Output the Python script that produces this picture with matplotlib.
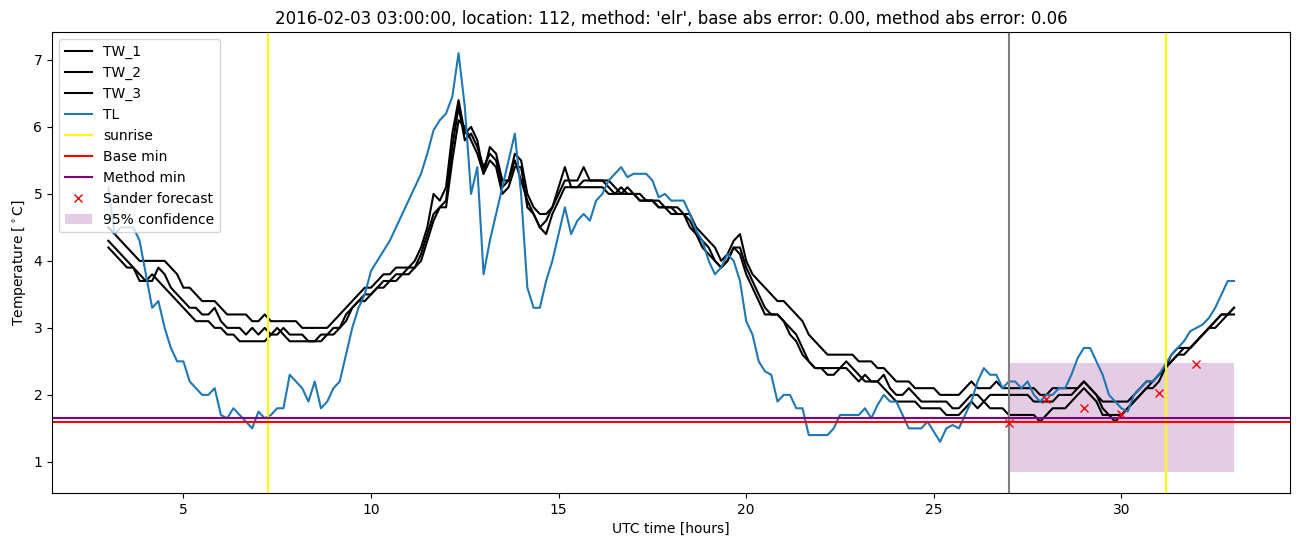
import numpy as np
import matplotlib
matplotlib.use("Agg")
import matplotlib.pyplot as plt

# 10-minute samples from 03:00 to 33:00 (hours since 2016-02-02 00 UTC)
hours = np.arange(181) / 6 + 3

tw_1 = [
    4.5, 4.4, 4.3, 4.2, 4.1, 4.0,
    4.0, 4.0, 4.0, 4.0, 3.9, 3.8,
    3.6, 3.6, 3.5, 3.4, 3.4, 3.4,
    3.3, 3.2, 3.2, 3.2, 3.2, 3.1,
    3.1, 3.2, 3.1, 3.1, 3.1, 3.1,
    3.1, 3.0, 3.0, 3.0, 3.0, 3.0,
    3.1, 3.2, 3.3, 3.4, 3.5, 3.6,
    3.6, 3.7, 3.8, 3.8, 3.9, 3.9,
    3.9, 4.0, 4.2, 4.5, 5.0, 4.9,
    5.1, 5.9, 6.4, 5.9, 6.0, 5.8,
    5.3, 5.7, 5.6, 5.2, 5.2, 5.6,
    5.5, 5.0, 4.8, 4.7, 4.7, 4.8,
    5.1, 5.4, 5.1, 5.1, 5.2, 5.2,
    5.2, 5.2, 5.2, 5.1, 5.0, 5.0,
    5.0, 4.9, 4.9, 4.9, 4.9, 4.8,
    4.8, 4.7, 4.7, 4.7, 4.5, 4.4,
    4.3, 4.2, 4.0, 4.1, 4.3, 4.4,
    4.0, 3.8, 3.7, 3.6, 3.5, 3.4,
    3.4, 3.3, 3.2, 3.1, 2.9, 2.8,
    2.7, 2.6, 2.6, 2.6, 2.6, 2.6,
    2.5, 2.5, 2.5, 2.4, 2.4, 2.3,
    2.2, 2.2, 2.2, 2.1, 2.1, 2.1,
    2.1, 2.0, 2.0, 2.0, 2.0, 2.1,
    2.2, 2.1, 2.1, 2.1, 2.2, 2.1,
    2.1, 2.1, 2.1, 2.1, 2.1, 2.0,
    2.0, 2.1, 2.1, 2.1, 2.1, 2.1,
    2.2, 2.1, 2.0, 1.9, 1.9, 1.9,
    1.9, 1.9, 2.0, 2.1, 2.2, 2.2,
    2.3, 2.4, 2.6, 2.7, 2.7, 2.7,
    2.8, 2.9, 3.0, 3.1, 3.2, 3.2,
    3.3,
]

tw_2 = [
    4.3, 4.2, 4.1, 4.0, 3.9, 3.8,
    3.7, 3.7, 3.9, 3.8, 3.6, 3.5,
    3.4, 3.3, 3.3, 3.2, 3.2, 3.3,
    3.1, 3.0, 3.0, 3.0, 2.9, 3.0,
    2.9, 3.0, 2.9, 2.9, 3.0, 2.9,
    2.9, 2.9, 2.8, 2.8, 2.8, 2.9,
    2.9, 3.0, 3.1, 3.3, 3.4, 3.5,
    3.5, 3.6, 3.7, 3.7, 3.8, 3.8,
    3.9, 3.9, 4.1, 4.4, 4.7, 4.8,
    4.9, 5.7, 6.3, 5.8, 5.9, 5.7,
    5.4, 5.6, 5.5, 5.1, 5.2, 5.5,
    5.2, 4.9, 4.7, 4.5, 4.6, 4.8,
    5.0, 5.2, 5.2, 5.2, 5.4, 5.2,
    5.2, 5.2, 5.1, 5.0, 5.0, 5.1,
    5.0, 5.0, 4.9, 4.9, 4.8, 4.8,
    4.8, 4.8, 4.7, 4.6, 4.4, 4.3,
    4.2, 4.0, 3.9, 4.0, 4.2, 4.2,
    3.9, 3.7, 3.5, 3.3, 3.2, 3.2,
    3.1, 3.0, 2.9, 2.7, 2.5, 2.4,
    2.4, 2.4, 2.4, 2.4, 2.5, 2.4,
    2.3, 2.2, 2.2, 2.2, 2.3, 2.1,
    2.0, 2.0, 2.1, 2.0, 1.9, 1.9,
    1.9, 1.9, 1.9, 1.8, 1.8, 1.9,
    2.0, 2.0, 1.9, 2.0, 2.0, 2.0,
    2.0, 2.0, 2.0, 2.0, 1.9, 1.9,
    1.9, 1.9, 2.0, 2.0, 2.0, 2.1,
    2.2, 2.1, 2.0, 1.8, 1.7, 1.7,
    1.7, 1.8, 1.9, 2.0, 2.1, 2.2,
    2.3, 2.4, 2.5, 2.6, 2.7, 2.7,
    2.8, 2.9, 3.0, 3.1, 3.2, 3.2,
    3.2,
]

tw_3 = [
    4.2, 4.1, 4.0, 3.9, 3.9, 3.7,
    3.7, 3.8, 3.7, 3.6, 3.5, 3.4,
    3.3, 3.2, 3.1, 3.1, 3.1, 3.0,
    3.0, 2.9, 2.9, 2.8, 2.8, 2.8,
    2.8, 2.8, 2.9, 3.0, 2.9, 2.8,
    2.8, 2.8, 2.8, 2.8, 2.9, 2.9,
    3.0, 3.0, 3.2, 3.3, 3.4, 3.4,
    3.5, 3.6, 3.6, 3.7, 3.7, 3.8,
    3.8, 3.9, 4.0, 4.3, 4.6, 4.8,
    4.8, 5.5, 6.1, 6.0, 5.8, 5.6,
    5.3, 5.5, 5.4, 5.0, 5.1, 5.4,
    5.4, 4.8, 4.7, 4.5, 4.4, 4.7,
    4.9, 5.1, 5.1, 5.1, 5.1, 5.1,
    5.1, 5.1, 5.0, 5.0, 5.1, 5.0,
    5.0, 4.9, 4.9, 4.9, 4.8, 4.8,
    4.7, 4.7, 4.7, 4.5, 4.4, 4.2,
    4.1, 4.0, 3.9, 4.0, 4.2, 4.1,
    3.8, 3.6, 3.4, 3.2, 3.2, 3.2,
    3.1, 2.9, 2.8, 2.6, 2.5, 2.4,
    2.4, 2.3, 2.3, 2.4, 2.4, 2.3,
    2.2, 2.3, 2.2, 2.2, 2.1, 2.0,
    1.9, 1.9, 1.9, 1.9, 1.8, 1.8,
    1.8, 1.8, 1.7, 1.7, 1.7, 1.8,
    1.9, 1.8, 1.9, 1.8, 1.8, 1.8,
    1.7, 1.7, 1.7, 1.7, 1.7, 1.6,
    1.7, 1.8, 1.8, 1.8, 1.9, 2.0,
    2.1, 2.0, 1.9, 1.7, 1.7, 1.6,
    1.7, 1.8, 1.9, 2.0, 2.1, 2.1,
    2.2, 2.4, 2.5, 2.6, 2.6, 2.7,
    2.8, 2.9, 3.0, 3.0, 3.1, 3.2,
    3.3,
]

tl = [
    5.1, 4.4, 4.5, 4.5, 4.5, 4.3,
    3.8, 3.3, 3.4, 3.0, 2.7, 2.5,
    2.5, 2.2, 2.1, 2.0, 2.0, 2.1,
    1.7, 1.65, 1.8, 1.7, 1.6, 1.5,
    1.75, 1.65, 1.7, 1.8, 1.8, 2.3,
    2.2, 2.1, 1.9, 2.2, 1.8, 1.9,
    2.1, 2.2, 2.6, 3.0, 3.3, 3.5,
    3.85, 4.0, 4.15, 4.3, 4.5, 4.7,
    4.9, 5.1, 5.3, 5.6, 5.95, 6.1,
    6.2, 6.45, 7.1, 6.3, 5.0, 5.4,
    3.8, 4.3, 4.7, 5.1, 5.5, 5.9,
    5.0, 3.6, 3.3, 3.3, 3.7, 4.0,
    4.4, 4.8, 4.4, 4.6, 4.7, 4.6,
    4.9, 5.0, 5.2, 5.3, 5.4, 5.25,
    5.3, 5.3, 5.3, 5.2, 4.95, 5.0,
    4.9, 4.9, 4.9, 4.7, 4.45, 4.3,
    4.0, 3.8, 3.9, 4.1, 4.0, 3.7,
    3.1, 2.9, 2.5, 2.35, 2.3, 1.9,
    2.0, 2.0, 1.8, 1.8, 1.4, 1.4,
    1.4, 1.4, 1.5, 1.7, 1.7, 1.7,
    1.7, 1.8, 1.65, 1.85, 2.0, 1.9,
    1.9, 1.7, 1.5, 1.5, 1.5, 1.6,
    1.45, 1.3, 1.5, 1.55, 1.5, 1.7,
    1.9, 2.2, 2.4, 2.3, 2.3, 2.1,
    2.2, 2.2, 2.1, 2.2, 2.0, 1.9,
    2.0, 2.0, 2.1, 2.1, 2.3, 2.55,
    2.7, 2.7, 2.5, 2.3, 2.0, 1.9,
    1.8, 1.75, 2.0, 2.1, 2.2, 2.2,
    2.3, 2.45, 2.6, 2.7, 2.8, 2.95,
    3.0, 3.05, 3.15, 3.3, 3.5, 3.7,
    3.7,
]

sunrise = [7.25, 31.2]
forecast_start = 27
base_min = 1.6
method_min = 1.66

sander_hours = [27, 28, 29, 30, 31, 32]
sander_temp = [1.58, 1.94, 1.8, 1.72, 2.03, 2.46]
conf_hours = [27, 33]
conf_low = 0.85
conf_high = 2.48

fig, ax = plt.subplots(figsize=(13.02, 5.47), dpi=100)
fig.subplots_adjust(left=0.04, right=0.991, top=0.941, bottom=0.099)

ax.plot(hours, tw_1, color="black", label="TW_1")
ax.plot(hours, tw_2, color="black", label="TW_2")
ax.plot(hours, tw_3, color="black", label="TW_3")
ax.plot(hours, tl, color="C0", label="TL")
ax.axvline(sunrise[0], color="yellow", label="sunrise")
ax.axvline(sunrise[1], color="yellow")
ax.axvline(forecast_start, color="grey")
ax.axhline(base_min, color="red", label="Base min")
ax.axhline(method_min, color="purple", label="Method min")
ax.plot(sander_hours, sander_temp, "x", color="red", label="Sander forecast")
ax.fill_between(conf_hours, conf_low, conf_high, color="purple", alpha=0.2,
                linewidth=0, label="95% confidence")

ax.set_xlabel("UTC time [hours]")
ax.set_ylabel(r"Temperature [$^\circ$C]")
ax.set_title("2016-02-03 03:00:00, location: 112, method: 'elr', "
             "base abs error: 0.00, method abs error: 0.06")
ax.legend(loc="upper left")

plt.savefig("out.png")
